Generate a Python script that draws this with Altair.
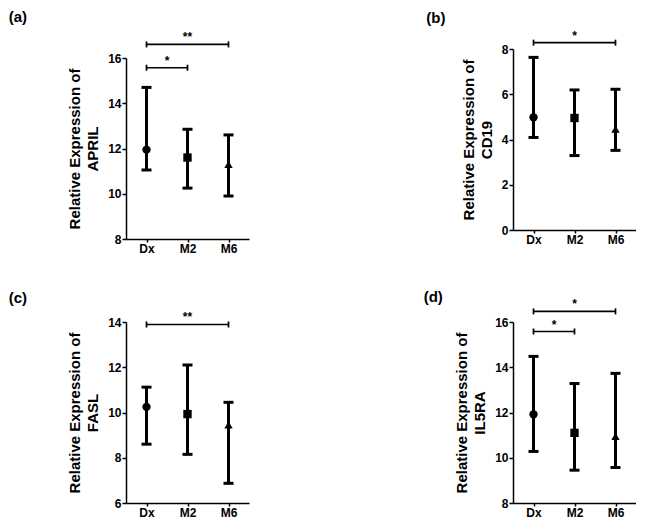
import altair as alt
import pandas as pd

groups = ["Dx", "M2", "M6"]
shapes = ["circle", "square", "triangle-up"]

# (a) APRIL
april_mean = [11.95, 11.6, 11.3]
april_low = [11.05, 10.25, 9.9]
april_high = [14.7, 12.85, 12.6]
april_sig_from = ["Dx", "Dx"]
april_sig_to = ["M2", "M6"]
april_sig_y = [15.57, 16.6]
april_sig_label = ["*", "**"]

# (b) CD19
cd19_mean = [4.98, 4.95, 4.46]
cd19_low = [4.09, 3.29, 3.52]
cd19_high = [7.63, 6.19, 6.22]
cd19_sig_from = ["Dx"]
cd19_sig_to = ["M6"]
cd19_sig_y = [8.28]
cd19_sig_label = ["*"]

# (c) FASL
fasl_mean = [10.25, 9.93, 9.45]
fasl_low = [8.6, 8.15, 6.87]
fasl_high = [11.12, 12.1, 10.45]
fasl_sig_from = ["Dx"]
fasl_sig_to = ["M6"]
fasl_sig_y = [13.89]
fasl_sig_label = ["**"]

# (d) IL5RA
il5ra_mean = [11.92, 11.1, 10.95]
il5ra_low = [10.28, 9.45, 9.57]
il5ra_high = [14.48, 13.28, 13.73]
il5ra_sig_from = ["Dx", "Dx"]
il5ra_sig_to = ["M2", "M6"]
il5ra_sig_y = [15.58, 16.47]
il5ra_sig_label = ["*", "*"]

FONT = "Liberation Sans"
label_expr = "[" + ",".join("'%s'" % g for g in groups) + "][datum.value]"


def panel(letter, gene, mean, low, high, ydom, yticks, sfrom, sto, sy, slab, dx, offset):
    df = pd.DataFrame({"group": groups, "pos": list(range(len(groups))),
                       "mean": mean, "low": low, "high": high})
    x1 = [groups.index(g) for g in sfrom]
    x2 = [groups.index(g) for g in sto]
    sig = pd.DataFrame({"x1": x1, "x2": x2, "y": sy, "label": slab})
    sig["mid"] = (sig["x1"] + sig["x2"]) / 2.0
    ends = pd.DataFrame({"x": x1 + x2, "y": sy + sy})

    xs = alt.Scale(domain=[-0.5, len(groups) - 0.5], nice=False, zero=False)
    ys = alt.Scale(domain=ydom, nice=False, zero=False)
    xax = alt.Axis(values=list(range(len(groups))), labelExpr=label_expr, title=None,
                   tickSize=3, labelPadding=1, grid=False)
    yax = alt.Axis(values=yticks, title=["Relative Expression of", gene], grid=False,
                   tickSize=4, labelPadding=1, titlePadding=7, titleLineHeight=18)

    base = alt.Chart(df)
    bars = base.mark_rule(strokeWidth=3, color="black").encode(
        x=alt.X("pos:Q", scale=xs, axis=xax),
        y=alt.Y("low:Q", scale=ys, axis=yax),
        y2="high:Q",
    )
    cap_lo = base.mark_tick(orient="horizontal", size=10, thickness=3, color="black", opacity=1).encode(
        x=alt.X("pos:Q", scale=xs), y=alt.Y("low:Q", scale=ys))
    cap_hi = base.mark_tick(orient="horizontal", size=10, thickness=3, color="black", opacity=1).encode(
        x=alt.X("pos:Q", scale=xs), y=alt.Y("high:Q", scale=ys))
    pts = base.mark_point(filled=True, opacity=1, color="black", size=70).encode(
        x=alt.X("pos:Q", scale=xs), y=alt.Y("mean:Q", scale=ys),
        shape=alt.Shape("group:N", scale=alt.Scale(domain=groups, range=shapes), legend=None),
    )
    sbar = alt.Chart(sig).mark_rule(strokeWidth=1.7, color="black").encode(
        x=alt.X("x1:Q", scale=xs), x2="x2:Q", y=alt.Y("y:Q", scale=ys))
    send = alt.Chart(ends).mark_tick(orient="vertical", size=6, thickness=1.7, color="black", opacity=1).encode(
        x=alt.X("x:Q", scale=xs), y=alt.Y("y:Q", scale=ys))
    stxt = alt.Chart(sig).mark_text(font=FONT, fontSize=12, fontWeight="bold", color="black",
                                    baseline="alphabetic", dy=-3).encode(
        x=alt.X("mid:Q", scale=xs), y=alt.Y("y:Q", scale=ys), text="label:N")

    return alt.layer(bars, cap_lo, cap_hi, pts, sbar, send, stxt).properties(
        width=123, height=181,
        title=alt.TitleParams(text=letter, anchor="start", frame="bounds", dx=dx, offset=offset,
                              font=FONT, fontSize=15, fontWeight="bold", color="black"),
    )


def spacer():
    return alt.Chart(pd.DataFrame({"v": [0]})).mark_point(opacity=0, size=1).encode(
        x=alt.value(0), y=alt.value(0)).properties(width=1, height=1)


pa = panel("(a)", "APRIL", april_mean, april_low, april_high, [8, 16], [8, 10, 12, 14, 16],
           april_sig_from, april_sig_to, april_sig_y, april_sig_label, -59, 6)
pb = panel("(b)", "CD19", cd19_mean, cd19_low, cd19_high, [0, 8], [0, 2, 4, 6, 8],
           cd19_sig_from, cd19_sig_to, cd19_sig_y, cd19_sig_label, -35, 4)
pc = panel("(c)", "FASL", fasl_mean, fasl_low, fasl_high, [6, 14], [6, 8, 10, 12, 14],
           fasl_sig_from, fasl_sig_to, fasl_sig_y, fasl_sig_label, -59, 5)
pd_ = panel("(d)", "IL5RA", il5ra_mean, il5ra_low, il5ra_high, [8, 16], [8, 10, 12, 14, 16],
            il5ra_sig_from, il5ra_sig_to, il5ra_sig_y, il5ra_sig_label, -31, -7)

col1 = alt.vconcat(spacer(), alt.vconcat(pa, pc, spacing=37), spacing=0)
col2 = alt.vconcat(spacer(), alt.vconcat(pb, pd_, spacing=45), spacing=0)

chart = alt.hconcat(col1, col2, spacing=174).properties(
    padding={"left": 0, "top": 0, "right": 0, "bottom": 0}
).configure_view(
    stroke=None
).configure_axis(
    labelFont=FONT, titleFont=FONT, labelFontSize=12, labelFontWeight="bold",
    titleFontSize=15, titleFontWeight="bold", labelColor="black", titleColor="black",
    domainColor="black", domainWidth=1.5, tickColor="black", tickWidth=1.5,
)

chart.save("out.html", embed_options={"renderer": "svg", "actions": False})
